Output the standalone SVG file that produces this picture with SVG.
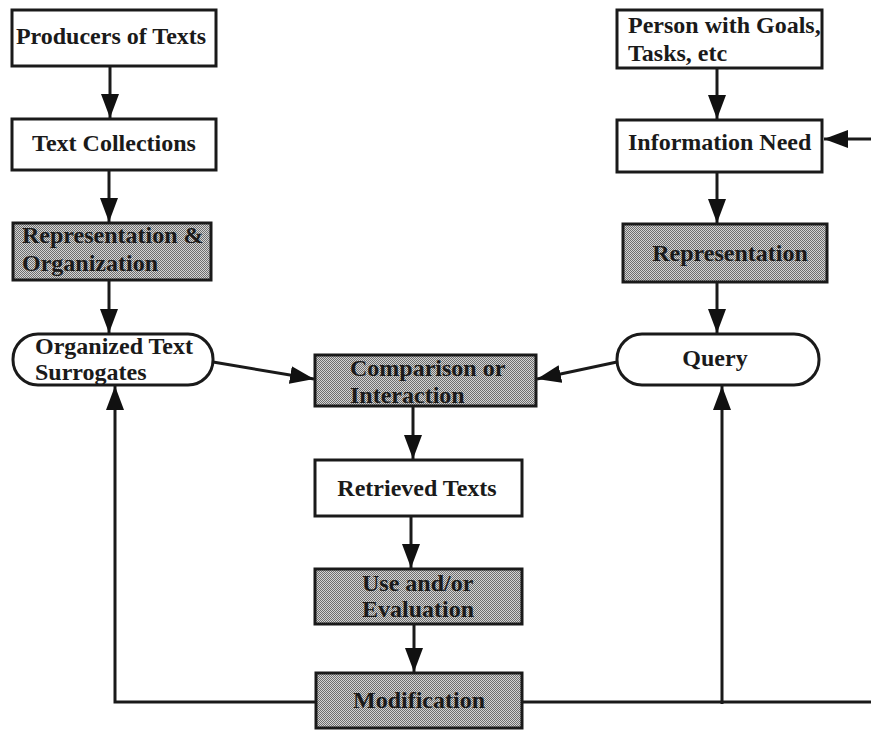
<svg xmlns="http://www.w3.org/2000/svg" width="871" height="730" viewBox="0 0 871 730">
<defs>
<pattern id="dots" width="2" height="2" patternUnits="userSpaceOnUse">
<rect width="2" height="2" fill="#d4d4d4"/>
<rect width="1" height="1" fill="#6e6e6e"/>
<rect x="1" y="1" width="1" height="1" fill="#6e6e6e"/>
</pattern>
<marker id="ah" markerUnits="userSpaceOnUse" markerWidth="26" markerHeight="20" refX="24" refY="10" orient="auto">
<path d="M0,1 L24,10 L0,19 z" fill="#111"/>
</marker>
</defs>
<style>
.box{fill:#fff;stroke:#1a1a1a;stroke-width:3}
.sh{fill:url(#dots);stroke:#1a1a1a;stroke-width:3}
.t{font-family:"Liberation Serif","Times New Roman",serif;font-weight:bold;font-size:24px;fill:#1a1a1a}
.c{text-anchor:middle}
.ln{fill:none;stroke:#1a1a1a;stroke-width:3}
</style>
<rect width="871" height="730" fill="#fff"/>
<g id="connectors">
<line class="ln" x1="110" y1="67" x2="110" y2="118" marker-end="url(#ah)"/>
<line class="ln" x1="109" y1="171" x2="109" y2="222" marker-end="url(#ah)"/>
<line class="ln" x1="109" y1="281" x2="109" y2="333" marker-end="url(#ah)"/>
<line class="ln" x1="717" y1="69" x2="717" y2="119" marker-end="url(#ah)"/>
<line class="ln" x1="717" y1="173" x2="717" y2="223" marker-end="url(#ah)"/>
<line class="ln" x1="717" y1="283" x2="717" y2="333" marker-end="url(#ah)"/>
<line class="ln" x1="871" y1="139" x2="824" y2="139" marker-end="url(#ah)"/>
<line class="ln" x1="213" y1="362" x2="314" y2="379" marker-end="url(#ah)"/>
<line class="ln" x1="617" y1="362" x2="537" y2="379" marker-end="url(#ah)"/>
<line class="ln" x1="413" y1="407" x2="413" y2="459" marker-end="url(#ah)"/>
<line class="ln" x1="411" y1="517" x2="411" y2="568" marker-end="url(#ah)"/>
<line class="ln" x1="414" y1="625" x2="414" y2="672" marker-end="url(#ah)"/>
<polyline class="ln" points="316,702 115,702 115,386" marker-end="url(#ah)"/>
<line class="ln" x1="522" y1="702" x2="871" y2="702"/>
<line class="ln" x1="722" y1="704" x2="722" y2="386" marker-end="url(#ah)"/>
</g>
<g id="producers">
<rect class="box" x="12" y="10" width="204" height="56"/>
<text class="t c" x="111" y="44">Producers of Texts</text>
</g>
<g id="text-collections">
<rect class="box" x="12" y="119" width="204" height="51"/>
<text class="t c" x="114" y="151">Text Collections</text>
</g>
<g id="rep-org">
<rect class="sh" x="13" y="223" width="198" height="57"/>
<text class="t" x="22" y="243">Representation &amp;</text>
<text class="t" x="22" y="271">Organization</text>
</g>
<g id="surrogates">
<rect class="box" x="13" y="334" width="200" height="51" rx="25" ry="25"/>
<text class="t" x="35" y="354">Organized Text</text>
<text class="t" x="35" y="380">Surrogates</text>
</g>
<g id="person">
<rect class="box" x="617" y="10" width="205" height="58"/>
<text class="t" x="628" y="33">Person with Goals,</text>
<text class="t" x="628" y="61">Tasks, etc</text>
</g>
<g id="info-need">
<rect class="box" x="617" y="120" width="205" height="52"/>
<text class="t" x="628" y="150">Information Need</text>
</g>
<g id="representation">
<rect class="sh" x="623" y="224" width="204" height="58"/>
<text class="t c" x="730" y="261">Representation</text>
</g>
<g id="query">
<rect class="box" x="617" y="334" width="202" height="51" rx="25" ry="25"/>
<text class="t c" x="715" y="366">Query</text>
</g>
<g id="comparison">
<rect class="sh" x="315" y="355" width="221" height="51"/>
<text class="t" x="350" y="376">Comparison or</text>
<text class="t" x="350" y="403">Interaction</text>
</g>
<g id="retrieved">
<rect class="box" x="315" y="460" width="207" height="56"/>
<text class="t c" x="417" y="496">Retrieved Texts</text>
</g>
<g id="use-eval">
<rect class="sh" x="315" y="569" width="207" height="55"/>
<text class="t" x="362" y="591">Use and/or</text>
<text class="t" x="362" y="617">Evaluation</text>
</g>
<g id="modification">
<rect class="sh" x="316" y="673" width="206" height="55"/>
<text class="t c" x="419" y="708">Modification</text>
</g>
</svg>
